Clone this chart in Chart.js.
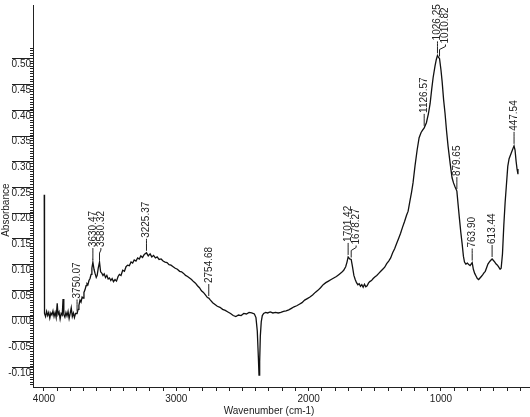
<!doctype html>
<html>
<head>
<meta charset="utf-8">
<title>FTIR spectrum</title>
<script src="https://cdn.jsdelivr.net/npm/chart.js@4.4.1/dist/chart.umd.min.js"></script>
<style>
  html, body { margin: 0; padding: 0; background: #fff; }
  #wrap { width: 530px; height: 417px; }
</style>
</head>
<body>
<div id="wrap"><canvas id="ftir"></canvas></div>
<script>
// spectrum (cm-1 / absorbance)
const wavenumbers = [
  3998, 3996, 3988, 3980, 3972, 3964, 3956, 3948, 3940, 3932, 3924, 3916, 3908, 3900, 3894, 3886,
  3878, 3870, 3862, 3856, 3850, 3842, 3834, 3826, 3818, 3810, 3802, 3794, 3786, 3778, 3770, 3762,
  3750.07, 3742, 3736, 3728, 3720, 3712, 3705, 3698, 3690, 3682, 3675, 3668, 3660, 3652, 3644, 3638,
  3630.47, 3622, 3614, 3605, 3598, 3590, 3580.32, 3572, 3562, 3554, 3545, 3535, 3525, 3515, 3505,
  3495, 3485, 3475, 3463, 3452, 3440, 3430, 3418, 3405, 3392, 3380, 3368, 3355, 3342, 3330, 3318,
  3305, 3292, 3280, 3268, 3255, 3242, 3225.37, 3212, 3198, 3185, 3172, 3158, 3145, 3130, 3115, 3100,
  3085, 3070, 3055, 3040, 3024, 3008, 2992, 2975, 2960, 2945, 2930, 2915, 2900, 2885, 2870, 2855,
  2840, 2825, 2810, 2795, 2780, 2765, 2754.68, 2742, 2725, 2710, 2690, 2670, 2650, 2630, 2610, 2590,
  2570, 2550, 2530, 2510, 2490, 2470, 2450, 2430, 2410, 2398, 2388, 2380, 2375, 2370, 2365, 2358,
  2350, 2340, 2325, 2310, 2290, 2270, 2250, 2230, 2210, 2190, 2170, 2150, 2130, 2110, 2090, 2070,
  2050, 2030, 2010, 1990, 1970, 1950, 1930, 1910, 1890, 1870, 1850, 1830, 1810, 1790, 1770, 1750,
  1735, 1720, 1710, 1701.42, 1690, 1678.27, 1668, 1658, 1648, 1638, 1628, 1618, 1608, 1598, 1588, 1578,
  1568, 1558, 1548, 1538, 1525, 1512, 1500, 1485, 1470, 1455, 1440, 1425, 1410, 1395, 1380, 1365,
  1350, 1335, 1320, 1305, 1290, 1275, 1260, 1248, 1235, 1222, 1211, 1196, 1180, 1165, 1150, 1140,
  1126.57, 1110, 1095, 1082, 1070, 1059, 1045, 1035, 1026.25, 1018, 1010.82, 1000, 991, 980, 969, 958,
  946, 930, 916, 905, 893, 879.65, 870, 860, 850, 840, 830, 822, 812, 800, 790, 780,
  772, 763.90, 755, 745, 735, 725, 715, 705, 695, 685, 675, 665, 655, 645, 635, 625,
  613.44, 603, 593, 583, 573, 563, 553, 545, 535, 525, 515, 505, 495, 485, 470, 460,
  447.54, 440, 432, 425, 418
];
const absorbance = [
  0.235, 0.004, -0.002, 0.008, 0.000, 0.006, -0.005, 0.005, 0.001, 0.009, -0.002, 0.006, -0.004, 0.024, 0.002, 0.007,
  -0.007, 0.004, 0.001, 0.032, 0.002, -0.003, 0.006, -0.001, 0.008, -0.006, 0.004, 0.015, -0.002, 0.005, -0.004, 0.004,
  0.004, 0.012, 0.020, 0.030, 0.026, 0.036, 0.034, 0.045, 0.050, 0.058, 0.062, 0.060, 0.068, 0.072, 0.080, 0.092,
  0.104, 0.090, 0.082, 0.074, 0.078, 0.092, 0.104, 0.085, 0.082, 0.078, 0.081, 0.074, 0.078, 0.071, 0.073,
  0.068, 0.072, 0.066, 0.070, 0.067, 0.076, 0.080, 0.078, 0.088, 0.086, 0.095, 0.098, 0.097, 0.104, 0.102, 0.108,
  0.106, 0.112, 0.110, 0.116, 0.113, 0.119, 0.122, 0.116, 0.120, 0.114, 0.117, 0.112, 0.114, 0.109, 0.110, 0.106,
  0.104, 0.103, 0.099, 0.098, 0.095, 0.092, 0.090, 0.086, 0.085, 0.082, 0.078, 0.076, 0.073, 0.070, 0.066, 0.063,
  0.058, 0.054, 0.048, 0.045, 0.040, 0.035, 0.034, 0.030, 0.025, 0.022, 0.018, 0.016, 0.012, 0.010, 0.007, 0.004,
  0.000, -0.002, 0.001, 0.000, 0.004, 0.003, 0.006, 0.005, 0.003, -0.004, -0.030, -0.080, -0.116, -0.090, -0.040, -0.012,
  0.000, 0.004, 0.006, 0.005, 0.007, 0.005, 0.006, 0.005, 0.006, 0.008, 0.009, 0.011, 0.014, 0.017, 0.019, 0.022,
  0.025, 0.030, 0.033, 0.036, 0.040, 0.045, 0.049, 0.054, 0.060, 0.064, 0.067, 0.070, 0.073, 0.076, 0.080, 0.084,
  0.088, 0.095, 0.104, 0.114, 0.110, 0.109, 0.094, 0.078, 0.070, 0.064, 0.060, 0.062, 0.057, 0.060, 0.055, 0.061,
  0.056, 0.058, 0.063, 0.066, 0.068, 0.072, 0.075, 0.078, 0.082, 0.086, 0.090, 0.094, 0.101, 0.106, 0.112, 0.122,
  0.130, 0.140, 0.150, 0.160, 0.172, 0.183, 0.195, 0.203, 0.222, 0.240, 0.258, 0.291, 0.322, 0.346, 0.356, 0.360,
  0.365, 0.375, 0.392, 0.412, 0.440, 0.463, 0.485, 0.498, 0.506, 0.502, 0.500, 0.478, 0.455, 0.420, 0.393, 0.360,
  0.329, 0.295, 0.268, 0.258, 0.250, 0.242, 0.215, 0.188, 0.162, 0.140, 0.115, 0.104, 0.100, 0.102, 0.099, 0.097,
  0.100, 0.103, 0.090, 0.082, 0.077, 0.072, 0.070, 0.073, 0.076, 0.079, 0.083, 0.086, 0.093, 0.100, 0.104, 0.107,
  0.110, 0.107, 0.104, 0.100, 0.098, 0.094, 0.090, 0.092, 0.120, 0.175, 0.220, 0.255, 0.290, 0.305, 0.315, 0.322,
  0.330, 0.322, 0.300, 0.285, 0.275
];
const peakLabels = ['3750.07', '3630.47', '3580.32', '3225.37', '2754.68', '1701.42', '1678.27',
  '1126.57', '1026.25', '1010.82', '879.65', '763.90', '613.44', '447.54'];
const xTickLabels = ['4000', '3000', '2000', '1000'];
const yTickLabels = ['0.50', '0.45', '0.40', '0.35', '0.30', '0.25', '0.20', '0.15',
  '0.10', '0.05', '0.00', '-0.05', '-0.10'];

const FONT = '"Liberation Sans", Arial, sans-serif';

function valueAt(wn) {
  for (let i = 0; i < wavenumbers.length - 1; i++) {
    const a = wavenumbers[i], b = wavenumbers[i + 1];
    if (wn <= a && wn >= b) {
      const t = (a - wn) / (a - b);
      return absorbance[i] + t * (absorbance[i + 1] - absorbance[i]);
    }
  }
  return 0;
}

// labelled peaks, axis titles and the long tick over every y label
const spectrumMarks = {
  id: 'spectrumMarks',
  afterDraw(chart) {
    const {ctx, chartArea, scales: {x, y}} = chart;
    ctx.save();
    ctx.strokeStyle = '#222';
    ctx.fillStyle = '#222';
    ctx.lineWidth = 1;

    yTickLabels.forEach(l => {
      const py = Math.round(y.getPixelForValue(parseFloat(l))) + 0.5;
      ctx.beginPath();
      ctx.moveTo(y.right - 21, py);
      ctx.lineTo(y.right, py);
      ctx.stroke();
    });

    ctx.font = '10px ' + FONT;
    ctx.textAlign = 'center';
    ctx.textBaseline = 'middle';
    // titles sit a little off centre in the original
    ctx.fillText('Wavenumber (cm-1)', chartArea.left + chartArea.width * 0.475, x.bottom - 6);
    ctx.save();
    ctx.translate(6, chartArea.top + chartArea.height * 0.537);
    ctx.rotate(-Math.PI / 2);
    ctx.fillText('Absorbance', 0, 0);
    ctx.restore();

    let prevX = -100;
    peakLabels.forEach(l => {
      const wn = parseFloat(l);
      const px = x.getPixelForValue(wn);
      const py = y.getPixelForValue(valueAt(wn));
      let tx = px;
      if (tx - prevX < 8) tx = prevX + 8;
      prevX = tx;
      ctx.beginPath();
      ctx.moveTo(px, py - 2);
      ctx.lineTo(px, py - 9);
      ctx.lineTo(tx, py - 12);
      ctx.lineTo(tx, py - 14);
      ctx.stroke();
      ctx.save();
      ctx.translate(tx, py - 15);
      ctx.rotate(-Math.PI / 2);
      ctx.textAlign = 'left';
      ctx.textBaseline = 'middle';
      ctx.fillText(l, 0, 0);
      ctx.restore();
    });
    ctx.restore();
  }
};

const ctx = document.getElementById('ftir').getContext('2d');
const chart = new Chart(ctx, {
  type: 'line',
  data: {
    datasets: [{
      data: wavenumbers.map((w, i) => ({x: w, y: absorbance[i]})),
      borderColor: '#111',
      borderWidth: 1.3,
      pointRadius: 0,
      tension: 0,
      fill: false
    }]
  },
  options: {
    responsive: true,
    maintainAspectRatio: false,
    animation: false,
    layout: {padding: 0},
    plugins: {
      legend: {display: false},
      tooltip: {enabled: false}
    },
    scales: {
      x: {
        type: 'linear',
        reverse: true,
        min: 327,
        max: 4083,
        afterFit: s => { s.height = 30; },
        border: {color: '#222', width: 1},
        grid: {drawOnChartArea: false, tickLength: 4, color: '#222'},
        ticks: {
          stepSize: 100,
          includeBounds: false,
          autoSkip: false,
          maxRotation: 0,
          padding: 2,
          color: '#222',
          font: {size: 10, family: FONT},
          callback: v => xTickLabels.includes(String(v)) ? String(v) : ''
        }
      },
      y: {
        min: -0.139,
        max: 0.604,
        afterFit: s => { s.width = 33; },
        border: {color: '#222', width: 1},
        grid: {
          drawOnChartArea: false,
          tickLength: 3,
          color: '#222',
          tickColor: c => (c.tick && c.tick.value > 0.521) ? 'rgba(0,0,0,0)' : '#222'
        },
        ticks: {
          stepSize: 0.005,
          includeBounds: false,
          autoSkip: false,
          padding: -1,
          labelOffset: 6,
          color: '#222',
          font: {size: 10, family: FONT},
          callback: v => {
            const l = yTickLabels.find(t => Math.abs(parseFloat(t) - v) < 1e-6);
            return l || '';
          }
        }
      }
    }
  },
  plugins: [spectrumMarks]
});
</script>
</body>
</html>
